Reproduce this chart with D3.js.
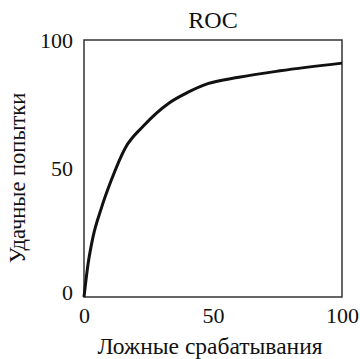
<!DOCTYPE html>
<html>
<head>
<meta charset="utf-8">
<script src="https://cdn.jsdelivr.net/npm/d3@7"></script>
<style>
  html, body { margin: 0; padding: 0; background: #fff; }
  svg { display: block; }
</style>
</head>
<body>
<svg id="chart" width="360" height="359"></svg>
<script>
const title = "ROC";
const xLabel = "Ложные срабатывания";
const yLabel = "Удачные попытки";
const falsePositive = [0, 1.6, 3.5, 6.7, 10.6, 16, 23, 33, 40, 48, 60, 76, 100];
const truePositive  = [0, 13, 23.4, 34.5, 45.5, 58, 66.5, 75.5, 79.5, 83, 85.5, 88, 91];
const xTicks = [0, 50, 100];
const yTicks = [0, 50, 100];

const FONT = "'Liberation Serif', 'DejaVu Serif', 'Times New Roman', serif";
const svg = d3.select("#chart");
const m = { left: 84, right: 342, top: 40, bottom: 297 };

const x = d3.scaleLinear().domain([0, 100]).range([m.left, m.right]);
const y = d3.scaleLinear().domain([0, 100]).range([m.bottom, m.top]);

svg.append("rect")
  .attr("x", m.left).attr("y", m.top)
  .attr("width", m.right - m.left).attr("height", m.bottom - m.top)
  .attr("fill", "none").attr("stroke", "#333").attr("stroke-width", 1.5);

const xAxis = d3.axisBottom(x).tickValues(xTicks).tickSize(0).tickPadding(10).tickFormat(d3.format("d"));
const yAxis = d3.axisLeft(y).tickValues(yTicks).tickSize(0).tickPadding(11).tickFormat(d3.format("d"));

const gx = svg.append("g").attr("transform", `translate(0,${m.bottom})`).call(xAxis);
const gy = svg.append("g").attr("transform", `translate(${m.left},0)`).call(yAxis);
[gx, gy].forEach(g => {
  g.attr("font-family", FONT).attr("font-size", 22);
  g.select(".domain").remove();
  g.selectAll("text").attr("font-family", FONT).attr("font-size", 22).attr("fill", "#111");
});
gy.selectAll("text").attr("dy", "0.32em");
gy.selectAll(".tick").filter(d => d === 0).select("text").attr("dy", "0.1em");

const data = falsePositive.map((v, i) => [v, truePositive[i]]);
svg.append("path")
  .datum(data)
  .attr("fill", "none")
  .attr("stroke", "#111")
  .attr("stroke-width", 3)
  .attr("stroke-linejoin", "round")
  .attr("d", d3.line().x(d => x(d[0])).y(d => y(d[1])).curve(d3.curveMonotoneX));

svg.append("text")
  .attr("x", 213).attr("y", 28)
  .attr("text-anchor", "middle")
  .attr("font-family", FONT).attr("font-size", 24).attr("fill", "#111")
  .text(title);

svg.append("text")
  .attr("x", 210).attr("y", 354)
  .attr("text-anchor", "middle")
  .attr("font-family", FONT).attr("font-size", 23.5).attr("fill", "#111")
  .text(xLabel);

svg.append("text")
  .attr("transform", "translate(25,178) rotate(-90)")
  .attr("text-anchor", "middle")
  .attr("font-family", FONT).attr("font-size", 22.5).attr("fill", "#111")
  .text(yLabel);
</script>
</body>
</html>
